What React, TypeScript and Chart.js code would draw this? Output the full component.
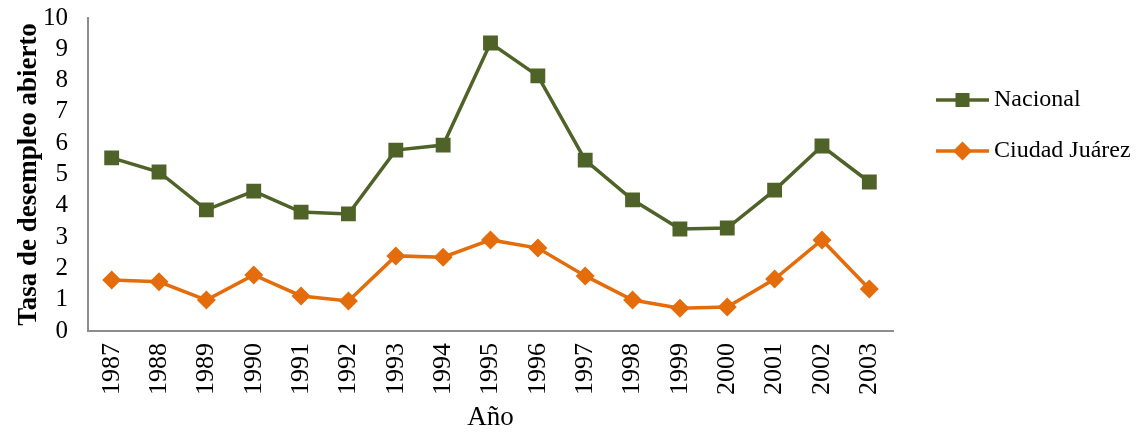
import React, { useEffect, useRef } from "react";
import { Chart, registerables } from "chart.js";

Chart.register(...registerables);

const years = ["1987","1988","1989","1990","1991","1992","1993","1994","1995","1996","1997","1998","1999","2000","2001","2002","2003"];
const nacional = [5.53, 5.08, 3.87, 4.47, 3.8, 3.74, 5.78, 5.94, 9.2, 8.15, 5.46, 4.19, 3.26, 3.29, 4.5, 5.91, 4.76];
const juarez = [1.63, 1.57, 0.99, 1.79, 1.12, 0.96, 2.4, 2.36, 2.91, 2.65, 1.76, 0.99, 0.73, 0.77, 1.66, 2.91, 1.34];
const seriesNames = ["Nacional", "Ciudad Juárez"];
const colors = ["#4F6228", "#E46C0A"];
const pointStyles = ["rect", "rectRot"];
const FONT = "'Liberation Serif', 'Times New Roman', serif";

const legendPlugin = {
  id: "customLegend",
  afterDraw(chart: any) {
    const ctx = chart.ctx;
    const x0 = 936, x1 = 989;
    const ys = [100, 151];
    ctx.save();
    seriesNames.forEach((name, i) => {
      const y = ys[i];
      ctx.strokeStyle = colors[i];
      ctx.fillStyle = colors[i];
      ctx.lineWidth = 3.5;
      ctx.beginPath();
      ctx.moveTo(x0, y);
      ctx.lineTo(x1, y);
      ctx.stroke();
      const cx = (x0 + x1) / 2;
      ctx.beginPath();
      if (i === 0) {
        ctx.rect(cx - 7, y - 7, 14, 14);
      } else {
        ctx.moveTo(cx, y - 9.5);
        ctx.lineTo(cx + 9.5, y);
        ctx.lineTo(cx, y + 9.5);
        ctx.lineTo(cx - 9.5, y);
        ctx.closePath();
      }
      ctx.fill();
      ctx.fillStyle = "#000";
      ctx.font = `24px ${FONT}`;
      ctx.textBaseline = "middle";
      ctx.textAlign = "left";
      ctx.fillText(name, 994, y);
    });
    ctx.restore();
  },
};

export default function App() {
  const ref = useRef<HTMLCanvasElement>(null);
  useEffect(() => {
    const chart = new Chart(ref.current!, {
      type: "line",
      data: {
        labels: years,
        datasets: [nacional, juarez].map((d, i) => ({
          label: seriesNames[i],
          data: d,
          borderColor: colors[i],
          backgroundColor: colors[i],
          borderWidth: 3.5,
          pointStyle: pointStyles[i] as any,
          pointRadius: i === 0 ? 10.5 : 9.5,
          pointBackgroundColor: colors[i],
          pointBorderWidth: 0,
          tension: 0,
        })),
      },
      options: {
        animation: false,
        responsive: false,
        maintainAspectRatio: false,
        layout: { padding: { left: 13, right: 245, top: 18, bottom: 0 } },
        plugins: { legend: { display: false }, tooltip: { enabled: false } },
        scales: {
          x: {
            offset: true,
            grid: { display: false, drawTicks: false },
            border: { display: true, color: "#8c8c8c", width: 2 },
            afterFit: (scale: any) => {
              scale.height = 101;
              scale.paddingLeft = 0;
              scale.paddingRight = 0;
            },
            ticks: {
              color: "#000",
              font: { family: FONT, size: 26 },
              maxRotation: 90,
              minRotation: 90,
              padding: 12,
              autoSkip: false,
            },
            title: {
              display: true,
              text: "Año",
              color: "#000",
              font: { family: FONT, size: 27 },
              padding: { top: 0, bottom: -2 },
            },
          },
          y: {
            min: 0,
            max: 10,
            grid: { display: false, drawTicks: false },
            border: { display: true, color: "#8c8c8c", width: 2 },
            afterFit: (scale: any) => {
              scale.width = 75;
              scale.paddingTop = 0;
              scale.paddingBottom = 0;
            },
            ticks: {
              stepSize: 1,
              autoSkip: false,
              color: "#000",
              font: { family: FONT, size: 25 },
              padding: 20,
            },
            title: {
              display: true,
              text: "Tasa de desempleo abierto",
              color: "#000",
              font: { family: FONT, size: 27, weight: "bold" },
              padding: { top: 0, bottom: 0 },
            },
          },
        },
      },
      plugins: [legendPlugin],
    });
    return () => chart.destroy();
  }, []);
  return (
    <div style={{ position: "absolute", left: 0, top: 0, width: 1138, height: 432, background: "#fff" }}>
      <canvas ref={ref} width={1138} height={432} style={{ width: 1138, height: 432 }} />
    </div>
  );
}
